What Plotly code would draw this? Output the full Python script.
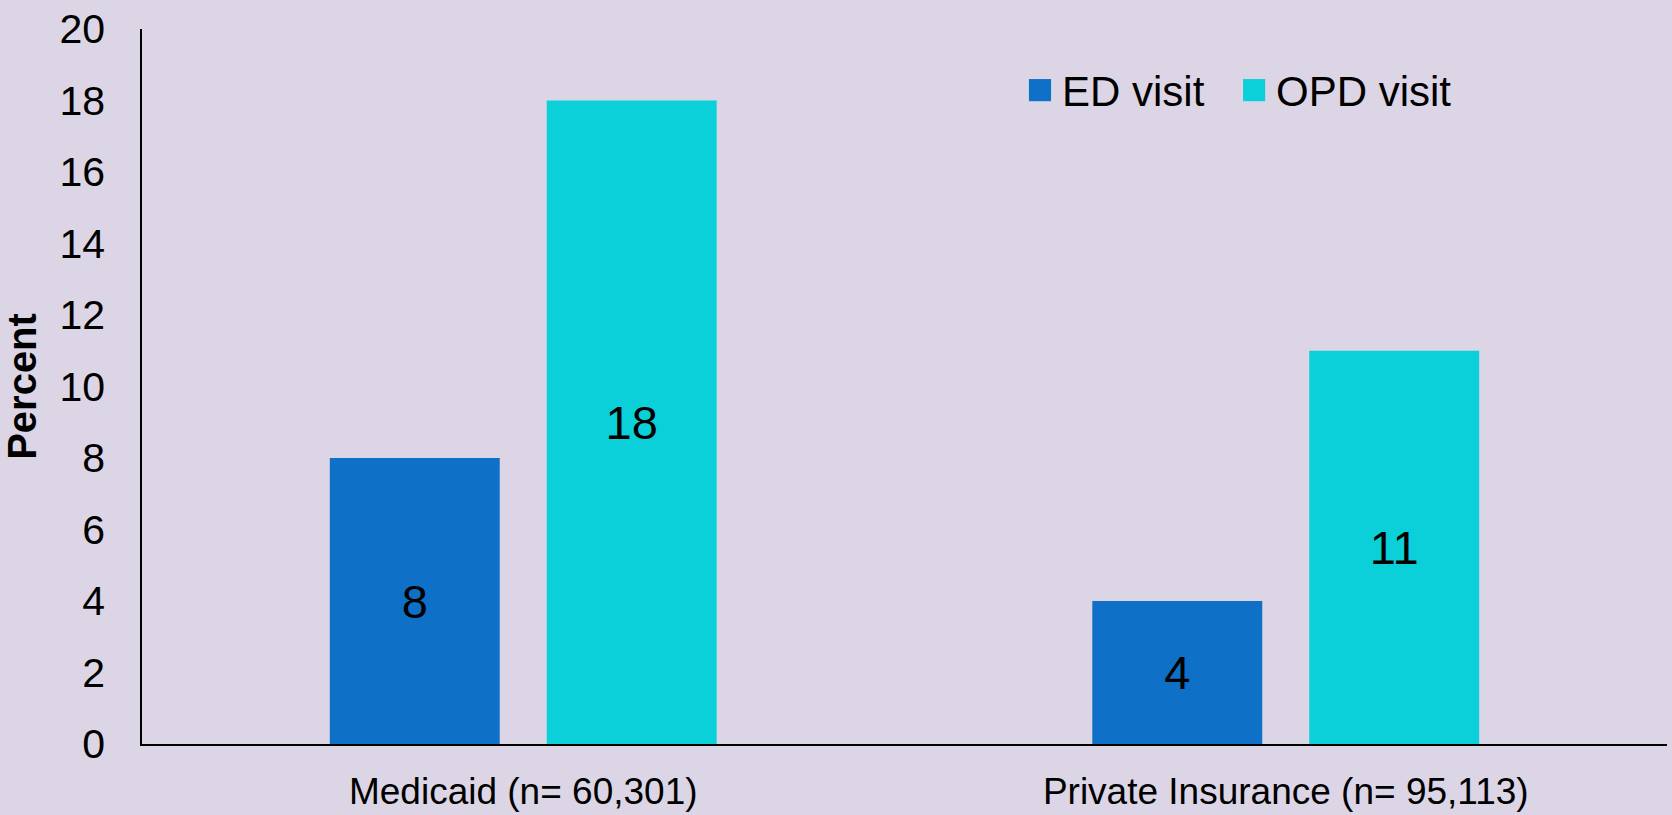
import plotly.graph_objects as go

categories = ["Medicaid (n= 60,301)", "Private Insurance (n= 95,113)"]
series_names = ["ED visit", "OPD visit"]
ed_values = [8, 4]
opd_values = [18, 11]
series_colors = ["#0F70C7", "#0BCFD9"]
y_ticks = [0, 2, 4, 6, 8, 10, 12, 14, 16, 18, 20]

BG = "#DCD5E5"
FONT = "Liberation Sans, Arial, sans-serif"

fig = go.Figure()
for name, vals, col in zip(series_names, [ed_values, opd_values], series_colors):
    fig.add_trace(go.Bar(
        x=categories, y=vals, name=name,
        marker=dict(color=col, line=dict(width=0)),
        text=[str(v) for v in vals], textposition="inside",
        insidetextanchor="middle",
        textfont=dict(family=FONT, size=47, color="#000000"),
        showlegend=False,
    ))

# legend drawn as squares + labels (larger swatches than native legend)
legend_x = [0.5816, 0.722]
for name, col, lx in zip(series_names, series_colors, legend_x):
    fig.add_shape(type="rect", xref="paper", yref="paper",
                  x0=lx, x1=lx + 0.0145, y0=0.899, y1=0.930,
                  fillcolor=col, line=dict(width=0))
    fig.add_annotation(xref="paper", yref="paper", x=lx + 0.0205, y=0.913,
                       xanchor="left", yanchor="middle", showarrow=False,
                       text=name, font=dict(family=FONT, size=42, color="#000000"))

fig.update_layout(
    width=1672, height=815,
    margin=dict(l=142, r=5, t=29, b=71, autoexpand=False),
    paper_bgcolor=BG, plot_bgcolor=BG,
    barmode="group", bargap=0.431, bargroupgap=0.2166,
    font=dict(family=FONT, color="#000000"),
    xaxis=dict(
        showline=True, linecolor="#000000", linewidth=1.5,
        showgrid=False, ticks="", zeroline=False,
        tickfont=dict(family=FONT, size=37, color="#000000"),
        ticklabelstandoff=14, automargin=False,
    ),
    yaxis=dict(
        range=[0, 20], tickvals=y_ticks, ticktext=[str(t) for t in y_ticks],
        showline=True, linecolor="#000000", linewidth=1.5,
        showgrid=False, ticks="", zeroline=False,
        tickfont=dict(family=FONT, size=41, color="#000000"),
        ticklabelstandoff=27, automargin=False,
        title=dict(text="<b>Percent</b>", font=dict(family=FONT, size=40, color="#000000"),
                   standoff=15),
    ),
)

fig.write_html("out.html")
